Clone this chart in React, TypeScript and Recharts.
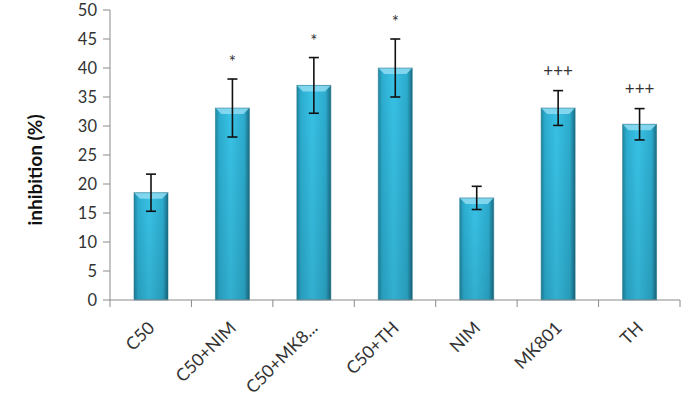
import { BarChart, Bar, XAxis, YAxis, ErrorBar, LabelList } from "recharts";

const categories = ["C50", "C50+NIM", "C50+MK8...", "C50+TH", "NIM", "MK801", "TH"];
const means = [18.5, 33.1, 37.0, 40.0, 17.6, 33.1, 30.3];
const errors = [3.2, 5.0, 4.8, 5.0, 2.0, 3.0, 2.7];
const marks = ["", "*", "*", "*", "", "+++", "+++"];
const yTicks = [0, 5, 10, 15, 20, 25, 30, 35, 40, 45, 50];

const data = categories.map((name, i) => ({
  name,
  value: means[i],
  err: errors[i],
  mark: marks[i],
}));

const FONT = "Lato, 'Open Sans', sans-serif";
const AXIS = "#8a8a8a";

const BevelBar = (props: any) => {
  const { x, y, width, height } = props;
  if (!height || height <= 0) return null;
  const b = 6;
  return (
    <g>
      <rect x={x} y={y} width={width} height={height} fill="url(#barH)" />
      <rect x={x} y={y} width={width} height={height} fill="url(#barV)" />
      <polygon
        points={`${x},${y} ${x + width},${y} ${x + width - b},${y + b} ${x + b},${y + b}`}
        fill="#8fdcf2"
        opacity={0.85}
      />
      <rect x={x} y={y} width={width} height={height} fill="none" stroke="#1b7088" strokeOpacity={0.5} strokeWidth={1} />
    </g>
  );
};

// category label, plus Excel-style tick marks on the category boundaries
const XTick = (props: any) => {
  const { x, y, payload, index, visibleTicksCount } = props;
  const half = payload.offset || 0;
  const axisY = y - 8;
  const last = index === visibleTicksCount - 1;
  return (
    <g>
      <line x1={x - half} y1={axisY} x2={x - half} y2={axisY + 7} stroke={AXIS} />
      {last && <line x1={x + half} y1={axisY} x2={x + half} y2={axisY + 7} stroke={AXIS} />}
      <text
        x={0}
        y={0}
        transform={`translate(${x + 5},${y + 21}) rotate(-45)`}
        textAnchor="end"
        fontSize={17.5}
        fontFamily={FONT}
        fill="#333"
      >
        {payload.value}
      </text>
    </g>
  );
};

const MarkLabel = (props: any) => {
  const { x, y, width, height, value, index } = props;
  if (!value) return null;
  const perUnit = height / means[index];
  const top = y - errors[index] * perUnit;
  const star = value === "*";
  return (
    <text
      x={x + width / 2}
      y={star ? top - 11 : top - 14}
      textAnchor="middle"
      fontSize={17}
      fontFamily={FONT}
      fill="#333"
    >
      {value}
    </text>
  );
};

export default function App() {
  return (
    <div style={{ position: "absolute", left: 0, top: 0, background: "#fff" }}>
      <BarChart
        width={690}
        height={409}
        data={data}
        margin={{ top: 10, right: 10, bottom: 0, left: 0 }}
      >
        <defs>
          <linearGradient id="barH" x1="0" y1="0" x2="1" y2="0">
            <stop offset="0%" stopColor="#1f86a0" />
            <stop offset="12%" stopColor="#2cadd0" />
            <stop offset="45%" stopColor="#38c2e6" />
            <stop offset="85%" stopColor="#2cabcd" />
            <stop offset="100%" stopColor="#196b82" />
          </linearGradient>
          <linearGradient id="barV" x1="0" y1="0" x2="0" y2="1">
            <stop offset="0%" stopColor="#000" stopOpacity={0} />
            <stop offset="100%" stopColor="#000" stopOpacity={0.1} />
          </linearGradient>
        </defs>
        <XAxis
          dataKey="name"
          height={109}
          tickLine={false}
          axisLine={{ stroke: AXIS }}
          tick={<XTick />}
          interval={0}
        />
        <YAxis
          domain={[0, 50]}
          ticks={yTicks}
          width={110}
          tickSize={7}
          tickMargin={6}
          axisLine={{ stroke: AXIS }}
          tickLine={{ stroke: AXIS }}
          tick={{ fontSize: 16.5, fill: "#333", fontFamily: FONT }}
          label={{
            content: () => (
              <text
                x={34}
                y={170}
                transform="rotate(-90, 34, 170)"
                textAnchor="middle"
                dominantBaseline="central"
                fontSize={19}
                fontWeight="bold"
                fontFamily={FONT}
                fill="#111"
              >
                inhibition (%)
              </text>
            ),
          }}
        />
        <Bar dataKey="value" barSize={34} shape={<BevelBar />} isAnimationActive={false}>
          <ErrorBar dataKey="err" width={5} stroke="#111" strokeWidth={1.6} />
          <LabelList dataKey="mark" content={<MarkLabel />} />
        </Bar>
      </BarChart>
    </div>
  );
}
